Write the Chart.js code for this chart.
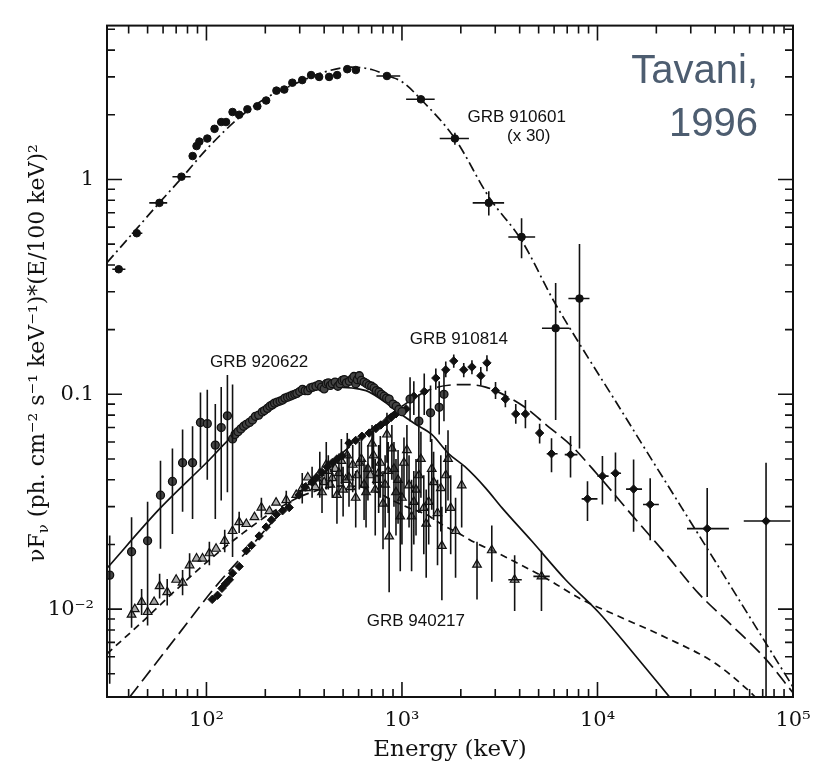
<!DOCTYPE html>
<html>
<head>
<meta charset="utf-8">
<script src="https://cdn.jsdelivr.net/npm/chart.js@4.4.0/dist/chart.umd.min.js"></script>
<style>
  html, body { margin: 0; padding: 0; background: #fff; }
  canvas { display: block; }
</style>
</head>
<body>
<canvas id="spectra" width="823" height="765"></canvas>
<script>
// axes
const xRange = [31, 100000];
const yRange = [0.0039, 5.2];
const xTickValues = [100, 1000, 10000, 100000];
const xTickText = ["10²", "10³", "10⁴", "10⁵"];
const yTickValues = [0.01, 0.1, 1];
const yTickText = ["10⁻²", "0.1", "1"];

// GRB 910601 (x 30) - filled circles, dash-dot fit
const e910601 = [35.6, 44, 57.5, 74.5, 85, 89, 92, 101, 110, 119, 126, 136, 147, 162, 182, 202, 228, 250, 275, 309, 343, 377, 424, 466, 525, 581, 838, 1250, 1865, 2780, 4090, 6110, 8090];
const f910601 = [0.382, 0.562, 0.778, 1.03, 1.285, 1.43, 1.5, 1.55, 1.72, 1.85, 1.85, 2.06, 2.0, 2.12, 2.19, 2.33, 2.59, 2.62, 2.82, 2.9, 3.06, 3.0, 3.0, 3.06, 3.26, 3.23, 3.03, 2.36, 1.55, 0.778, 0.54, 0.203, 0.279];
const vBars910601 = [[1865, 1.45, 1.65], [2780, 0.68, 0.88], [4090, 0.43, 0.66], [6110, 0.076, 0.33], [8090, 0.056, 0.5]];
const hBars910601 = [[0.382, 33, 38.5], [0.562, 41.5, 47], [0.778, 51, 63], [1.03, 67, 83], [3.03, 740, 980], [2.36, 1050, 1470], [1.55, 1560, 2200], [0.778, 2300, 3330], [0.54, 3500, 4800], [0.203, 5200, 7200], [0.279, 7100, 9100]];
const fitE910601 = [31, 44, 57.5, 75, 100, 150, 200, 300, 400, 550, 700, 850, 1000, 1250, 1865, 2780, 4090, 6000, 9000, 12000, 18000, 27000, 40000, 60000, 100000];
const fitF910601 = [0.41, 0.59, 0.78, 1.02, 1.38, 1.97, 2.38, 2.85, 3.16, 3.33, 3.25, 3.03, 2.85, 2.36, 1.55, 0.83, 0.52, 0.27, 0.147, 0.097, 0.0535, 0.0296, 0.0167, 0.0092, 0.00434];

// GRB 920622 - circles, solid fit
const e920622 = [32, 41.4, 50, 58.2, 67, 75.5, 84.9, 93.2, 101, 111, 119, 128, 136, 140, 145, 150, 155, 160, 166, 172, 178, 185, 193, 198, 205, 211, 217, 223, 230, 238, 245, 252, 260, 268, 275, 283, 290, 300, 310, 320, 330, 340, 350, 363, 377, 388, 400, 410, 420, 430, 440, 455, 470, 482, 494, 507, 520, 538, 556, 568, 580, 592, 605, 620, 640, 660, 680, 700, 720, 740, 763, 785, 810, 835, 860, 900, 935, 965, 1000, 1100, 1220, 1400, 1550, 1640];
const f920622 = [0.0144, 0.0185, 0.0208, 0.0339, 0.0393, 0.048, 0.048, 0.0739, 0.073, 0.058, 0.07, 0.0794, 0.062, 0.065, 0.067, 0.069, 0.071, 0.0725, 0.074, 0.076, 0.079, 0.08, 0.0828, 0.084, 0.086, 0.088, 0.0893, 0.091, 0.092, 0.093, 0.094, 0.096, 0.097, 0.098, 0.099, 0.1, 0.101, 0.103, 0.1055, 0.104, 0.104, 0.107, 0.108, 0.109, 0.111, 0.108, 0.106, 0.112, 0.113, 0.11, 0.112, 0.114, 0.109, 0.112, 0.116, 0.117, 0.113, 0.115, 0.118, 0.121, 0.112, 0.117, 0.122, 0.116, 0.114, 0.112, 0.11, 0.109, 0.107, 0.104, 0.1025, 0.1, 0.098, 0.096, 0.095, 0.09, 0.088, 0.085, 0.083, 0.095, 0.075, 0.082, 0.087, 0.1];
const vBars920622 = [[32, 0.0045, 0.022], [41.4, 0.0105, 0.0268], [50, 0.0087, 0.0316], [58.2, 0.0191, 0.049], [67, 0.0224, 0.056], [75.5, 0.0284, 0.0685], [84.9, 0.0263, 0.071], [93.2, 0.0456, 0.102], [101, 0.04, 0.105], [111, 0.0263, 0.09], [119, 0.032, 0.108], [128, 0.035, 0.123], [136, 0.0175, 0.111], [1100, 0.075, 0.12], [1220, 0.055, 0.1], [1400, 0.06, 0.11], [1550, 0.065, 0.115], [1640, 0.075, 0.13]];
const fitE920622 = [31, 58, 100, 136, 202, 298, 440, 655, 790, 965, 1175, 1420, 1730, 2100, 2680, 3250, 4600, 6870, 10100, 14900, 24500];
const fitF920622 = [0.0155, 0.0295, 0.048, 0.0638, 0.0828, 0.099, 0.108, 0.104, 0.094, 0.082, 0.0725, 0.065, 0.053, 0.046, 0.0366, 0.0296, 0.0208, 0.0137, 0.0097, 0.0064, 0.0037];

// GRB 910814 - filled diamonds, long-dash fit
const e910814 = [107, 114, 120, 125, 131, 136, 147, 160, 170, 186, 202, 215, 228, 245, 265, 298, 320, 347, 365, 390, 415, 440, 465, 494, 536, 580, 624, 680, 736, 780, 829, 880, 932, 990, 1050, 1150, 1300, 1490, 1675, 1840, 2070, 2280, 2530, 2720, 3010, 3380, 3820, 4280, 5060, 5820, 7280, 8890, 10600, 12360, 15300, 18600, 36400, 72800];
const f910814 = [0.0111, 0.0116, 0.0125, 0.0131, 0.0137, 0.0147, 0.0158, 0.0187, 0.0198, 0.0219, 0.0241, 0.026, 0.0276, 0.0287, 0.0297, 0.034, 0.037, 0.039, 0.041, 0.0433, 0.046, 0.0481, 0.05, 0.0518, 0.0593, 0.061, 0.0638, 0.066, 0.0693, 0.072, 0.0746, 0.078, 0.0811, 0.083, 0.0855, 0.098, 0.103, 0.119, 0.13, 0.143, 0.13, 0.134, 0.122, 0.14, 0.104, 0.095, 0.081, 0.081, 0.066, 0.0529, 0.0524, 0.0326, 0.0416, 0.0429, 0.0362, 0.0307, 0.0237, 0.0257];
const vBars910814 = [[1150, 0.08, 0.115], [1300, 0.08, 0.125], [1490, 0.105, 0.132], [1675, 0.12, 0.142], [1840, 0.133, 0.153], [2070, 0.12, 0.14], [2280, 0.124, 0.144], [2530, 0.11, 0.134], [2720, 0.128, 0.152], [3010, 0.095, 0.114], [3380, 0.087, 0.104], [3820, 0.073, 0.09], [4280, 0.0694, 0.094], [5060, 0.059, 0.073], [5820, 0.0434, 0.0625], [7280, 0.041, 0.064], [8890, 0.0257, 0.0394], [10600, 0.0307, 0.0516], [12360, 0.0317, 0.0536], [15300, 0.0229, 0.0497], [18600, 0.0209, 0.0407], [36400, 0.0114, 0.0366], [72800, 0.003, 0.048]];
const hBars910814 = [[0.0529, 5500, 6250], [0.0524, 6800, 7900], [0.0326, 8300, 10000], [0.0416, 10000, 11400], [0.0429, 11700, 13200], [0.0362, 14000, 16900], [0.0307, 17100, 20600], [0.0237, 28700, 47000], [0.0257, 56000, 97000]];
const fitE910814 = [40.5, 70, 112, 160, 230, 330, 480, 700, 1000, 1420, 2100, 2680, 3520, 4450, 5430, 7370, 10100, 14900, 22200, 32700, 48300, 72000, 100000];
const fitF910814 = [0.0039, 0.0074, 0.0128, 0.0185, 0.027, 0.038, 0.052, 0.069, 0.088, 0.106, 0.111, 0.108, 0.0967, 0.0845, 0.0724, 0.0575, 0.0419, 0.0276, 0.0182, 0.0119, 0.00845, 0.0059, 0.00408];

// GRB 940217 - triangles, short-dash fit
const e940217 = [41.4, 43, 46.6, 50, 54, 57.6, 63, 70, 75.5, 82, 89, 95.5, 103.5, 112, 124, 136, 147, 160, 176, 191, 210, 227, 256, 288, 309, 323, 330, 347, 360, 365, 380, 390, 400, 410, 420, 430, 440, 455, 465, 476, 490, 500, 515, 525, 536, 545, 560, 580, 590, 605, 620, 640, 655, 670, 690, 703, 715, 730, 745, 760, 775, 800, 820, 838, 850, 860, 888, 910, 932, 955, 980, 1000, 1024, 1060, 1087, 1120, 1150, 1180, 1220, 1250, 1293, 1330, 1370, 1420, 1452, 1520, 1580, 1600, 1675, 1720, 1775, 1880, 2020, 2420, 2880, 3770, 5170];
const f940217 = [0.00943, 0.01, 0.0108, 0.0097, 0.0108, 0.0128, 0.012, 0.0137, 0.0133, 0.016, 0.0172, 0.0172, 0.0182, 0.0191, 0.0208, 0.0231, 0.0254, 0.0249, 0.0268, 0.0297, 0.0286, 0.0313, 0.0322, 0.034, 0.0366, 0.0366, 0.041, 0.039, 0.037, 0.0406, 0.043, 0.035, 0.039, 0.047, 0.044, 0.038, 0.0407, 0.045, 0.034, 0.043, 0.049, 0.036, 0.04, 0.052, 0.041, 0.037, 0.047, 0.033, 0.042, 0.048, 0.05, 0.038, 0.035, 0.045, 0.042, 0.059, 0.052, 0.036, 0.04, 0.043, 0.048, 0.031, 0.038, 0.065, 0.044, 0.0218, 0.056, 0.045, 0.035, 0.04, 0.027, 0.033, 0.048, 0.055, 0.0377, 0.027, 0.0316, 0.036, 0.042, 0.05, 0.0296, 0.025, 0.0316, 0.045, 0.039, 0.028, 0.0366, 0.0197, 0.042, 0.05, 0.0296, 0.0231, 0.0377, 0.0161, 0.0188, 0.0137, 0.0142];
const vBars940217 = [[41.4, 0.0082, 0.0108], [46.6, 0.0094, 0.0124], [50, 0.0084, 0.0112], [57.6, 0.0112, 0.0146], [63, 0.0104, 0.0138], [75.5, 0.0116, 0.0152], [82, 0.014, 0.0182], [103.5, 0.016, 0.0206], [124, 0.0184, 0.0234], [147, 0.0226, 0.0284], [191, 0.0266, 0.033], [256, 0.029, 0.0356], [309, 0.031, 0.043], [347, 0.033, 0.046], [380, 0.033, 0.054], [390, 0.028, 0.043], [410, 0.036, 0.06], [420, 0.036, 0.052], [440, 0.033, 0.049], [465, 0.025, 0.044], [476, 0.034, 0.053], [490, 0.038, 0.062], [500, 0.027, 0.046], [525, 0.04, 0.066], [536, 0.03, 0.053], [560, 0.035, 0.058], [580, 0.024, 0.044], [605, 0.036, 0.06], [620, 0.037, 0.065], [640, 0.026, 0.05], [655, 0.024, 0.047], [670, 0.032, 0.058], [703, 0.045, 0.072], [715, 0.038, 0.068], [730, 0.022, 0.05], [760, 0.028, 0.058], [775, 0.033, 0.064], [800, 0.019, 0.044], [820, 0.024, 0.052], [838, 0.048, 0.082], [850, 0.028, 0.06], [860, 0.012, 0.033], [888, 0.04, 0.072], [910, 0.03, 0.06], [932, 0.022, 0.05], [955, 0.025, 0.055], [980, 0.015, 0.04], [1000, 0.02, 0.047], [1024, 0.033, 0.063], [1060, 0.038, 0.072], [1087, 0.024, 0.052], [1120, 0.015, 0.04], [1150, 0.02, 0.044], [1180, 0.022, 0.05], [1220, 0.028, 0.058], [1250, 0.033, 0.067], [1293, 0.018, 0.042], [1330, 0.014, 0.036], [1370, 0.02, 0.044], [1420, 0.029, 0.062], [1452, 0.026, 0.054], [1520, 0.016, 0.04], [1580, 0.023, 0.052], [1600, 0.011, 0.03], [1675, 0.028, 0.058], [1720, 0.032, 0.068], [1775, 0.018, 0.042], [1880, 0.014, 0.033], [2020, 0.024, 0.047], [2420, 0.0111, 0.0206], [2880, 0.0134, 0.0245], [3770, 0.0098, 0.0178], [5170, 0.0098, 0.0187]];
const hBars940217 = [[0.0137, 3500, 4100], [0.0142, 4700, 5700]];
const fitE940217 = [31, 45.5, 70, 100, 150, 220, 330, 500, 700, 900, 1087, 1325, 1600, 1955, 2390, 2880, 3640, 5620, 8280, 12360, 22200, 40000, 58900, 66000];
const fitF940217 = [0.0062, 0.0085, 0.0123, 0.0165, 0.0222, 0.0285, 0.0345, 0.0375, 0.036, 0.032, 0.0296, 0.0276, 0.0248, 0.0225, 0.0203, 0.0188, 0.0169, 0.0137, 0.0111, 0.0094, 0.0074, 0.0056, 0.0042, 0.0038];

// text labels placed in data coordinates
const notes = [
  { text: "GRB 910601", e: 3865, f: 1.95 },
  { text: "(x 30)", e: 4450, f: 1.585 },
  { text: "GRB 910814", e: 1955, f: 0.18 },
  { text: "GRB 920622", e: 186, f: 0.141 },
  { text: "GRB 940217", e: 1178, f: 0.0088 }
];

const ink = "#111";

function pts(es, fs) {
  return es.map((e, i) => ({ x: e, y: fs[i] }));
}

function fitLine(es, fs, dash) {
  return {
    type: "line",
    data: pts(es, fs),
    borderColor: ink,
    borderWidth: 1.7,
    borderDash: dash,
    pointRadius: 0,
    cubicInterpolationMode: "monotone",
    order: 5
  };
}

function markers(es, fs, style, vBars, hBars) {
  return Object.assign({
    type: "scatter",
    data: pts(es, fs),
    vBars: vBars,
    hBars: hBars,
    order: 1
  }, style);
}

function tickLabel(v, values, texts) {
  const i = values.findIndex(t => Math.abs(v / t - 1) < 1e-6);
  return i < 0 ? "" : texts[i];
}

function tickLen(v) {
  const m = v / Math.pow(10, Math.floor(Math.log10(v) + 1e-9));
  if (Math.abs(m - Math.round(m)) > 1e-6) return 0;
  return Math.round(m) === 1 ? 15 : 8;
}

const errorBars = {
  id: "errorBars",
  afterDatasetsDraw(chart) {
    const { ctx, chartArea: a, scales: { x, y } } = chart;
    ctx.save();
    ctx.beginPath();
    ctx.rect(a.left, a.top, a.right - a.left, a.bottom - a.top);
    ctx.clip();
    ctx.strokeStyle = ink;
    ctx.lineWidth = 1.6;
    ctx.beginPath();
    chart.data.datasets.forEach(ds => {
      (ds.vBars || []).forEach(([e, lo, hi]) => {
        const px = x.getPixelForValue(e);
        ctx.moveTo(px, y.getPixelForValue(lo));
        ctx.lineTo(px, y.getPixelForValue(hi));
      });
      (ds.hBars || []).forEach(([f, lo, hi]) => {
        const py = y.getPixelForValue(f);
        ctx.moveTo(x.getPixelForValue(lo), py);
        ctx.lineTo(x.getPixelForValue(hi), py);
      });
    });
    ctx.stroke();
    ctx.restore();
  }
};

const frame = {
  id: "frame",
  afterDraw(chart) {
    const { ctx, chartArea: a, scales: { x, y } } = chart;
    ctx.save();
    ctx.strokeStyle = ink;
    ctx.lineWidth = 2;
    ctx.strokeRect(a.left, a.top, a.right - a.left, a.bottom - a.top);
    ctx.lineWidth = 1.6;
    ctx.beginPath();
    x.ticks.forEach(t => {
      const len = tickLen(t.value);
      if (!len) return;
      const px = x.getPixelForValue(t.value);
      ctx.moveTo(px, a.bottom); ctx.lineTo(px, a.bottom - len);
      ctx.moveTo(px, a.top); ctx.lineTo(px, a.top + len);
    });
    y.ticks.forEach(t => {
      const len = tickLen(t.value);
      if (!len) return;
      const py = y.getPixelForValue(t.value);
      ctx.moveTo(a.left, py); ctx.lineTo(a.left + len, py);
      ctx.moveTo(a.right, py); ctx.lineTo(a.right - len, py);
    });
    ctx.stroke();
    ctx.restore();
  }
};

const texts = {
  id: "texts",
  afterDraw(chart) {
    const { ctx, chartArea: a, scales: { x, y } } = chart;
    ctx.save();
    ctx.fillStyle = ink;

    // curve labels
    ctx.font = '17px "Liberation Sans"';
    ctx.textAlign = "center";
    ctx.textBaseline = "middle";
    notes.forEach(n => ctx.fillText(n.text, x.getPixelForValue(n.e), y.getPixelForValue(n.f)));

    // x title
    ctx.font = '23px "DejaVu Serif"';
    ctx.fillText("Energy (keV)", (a.left + a.right) / 2, 750);

    // y title, rotated, with subscript nu
    const parts = [
      { t: "νF", size: 22, dy: 0 },
      { t: "ν", size: 15, dy: 6 },
      { t: " (ph. cm⁻² s⁻¹ keV⁻¹)*(E/100 keV)²", size: 22, dy: 0 }
    ];
    let total = 0;
    parts.forEach(p => {
      ctx.font = p.size + 'px "DejaVu Serif"';
      p.w = ctx.measureText(p.t).width;
      total += p.w;
    });
    ctx.translate(38, 353);
    ctx.rotate(-Math.PI / 2);
    ctx.textAlign = "left";
    let px = -total / 2;
    parts.forEach(p => {
      ctx.font = p.size + 'px "DejaVu Serif"';
      ctx.fillText(p.t, px, p.dy);
      px += p.w;
    });
    ctx.restore();

    // credit
    ctx.save();
    ctx.fillStyle = "#4d5d70";
    ctx.font = '40px "Liberation Sans"';
    ctx.textAlign = "right";
    ctx.textBaseline = "alphabetic";
    ctx.fillText("Tavani,", 758, 83);
    ctx.fillText("1996", 758, 136);
    ctx.restore();
  }
};

const tickFont = { family: "DejaVu Serif", size: 21 };

new Chart(document.getElementById("spectra"), {
  data: {
    datasets: [
      markers(e910601, f910601, { pointStyle: "circle", pointRadius: 3.8, backgroundColor: ink, borderColor: ink }, vBars910601, hBars910601),
      markers(e920622, f920622, { pointStyle: "circle", pointRadius: 4, backgroundColor: "#444", borderColor: ink, borderWidth: 1.3 }, vBars920622, null),
      markers(e910814, f910814, { pointStyle: "rectRot", pointRadius: 4.2, backgroundColor: ink, borderColor: ink }, vBars910814, hBars910814),
      markers(e940217, f940217, { pointStyle: "triangle", pointRadius: 5, backgroundColor: "rgba(110,110,110,0.6)", borderColor: ink, borderWidth: 1.2 }, vBars940217, hBars940217),
      fitLine(fitE910601, fitF910601, [10, 4, 2, 4]),
      fitLine(fitE920622, fitF920622, []),
      fitLine(fitE910814, fitF910814, [14, 6]),
      fitLine(fitE940217, fitF940217, [7, 5])
    ]
  },
  options: {
    responsive: false,
    animation: false,
    devicePixelRatio: 1,
    layout: { padding: { top: 10, right: 30, left: 0, bottom: 0 } },
    plugins: { legend: { display: false }, tooltip: { enabled: false } },
    scales: {
      x: {
        type: "logarithmic",
        min: xRange[0],
        max: xRange[1],
        grid: { display: false, drawTicks: false },
        border: { display: false },
        ticks: {
          autoSkip: false,
          maxRotation: 0,
          padding: 11,
          color: ink,
          font: tickFont,
          callback: v => tickLabel(v, xTickValues, xTickText)
        },
        afterFit(s) { s.height = 68; }
      },
      y: {
        type: "logarithmic",
        min: yRange[0],
        max: yRange[1],
        grid: { display: false, drawTicks: false },
        border: { display: false },
        ticks: {
          autoSkip: false,
          padding: 13,
          color: ink,
          font: tickFont,
          callback: v => tickLabel(v, yTickValues, yTickText)
        },
        afterFit(s) { s.width = 107; }
      }
    }
  },
  plugins: [errorBars, frame, texts]
});
</script>
</body>
</html>
